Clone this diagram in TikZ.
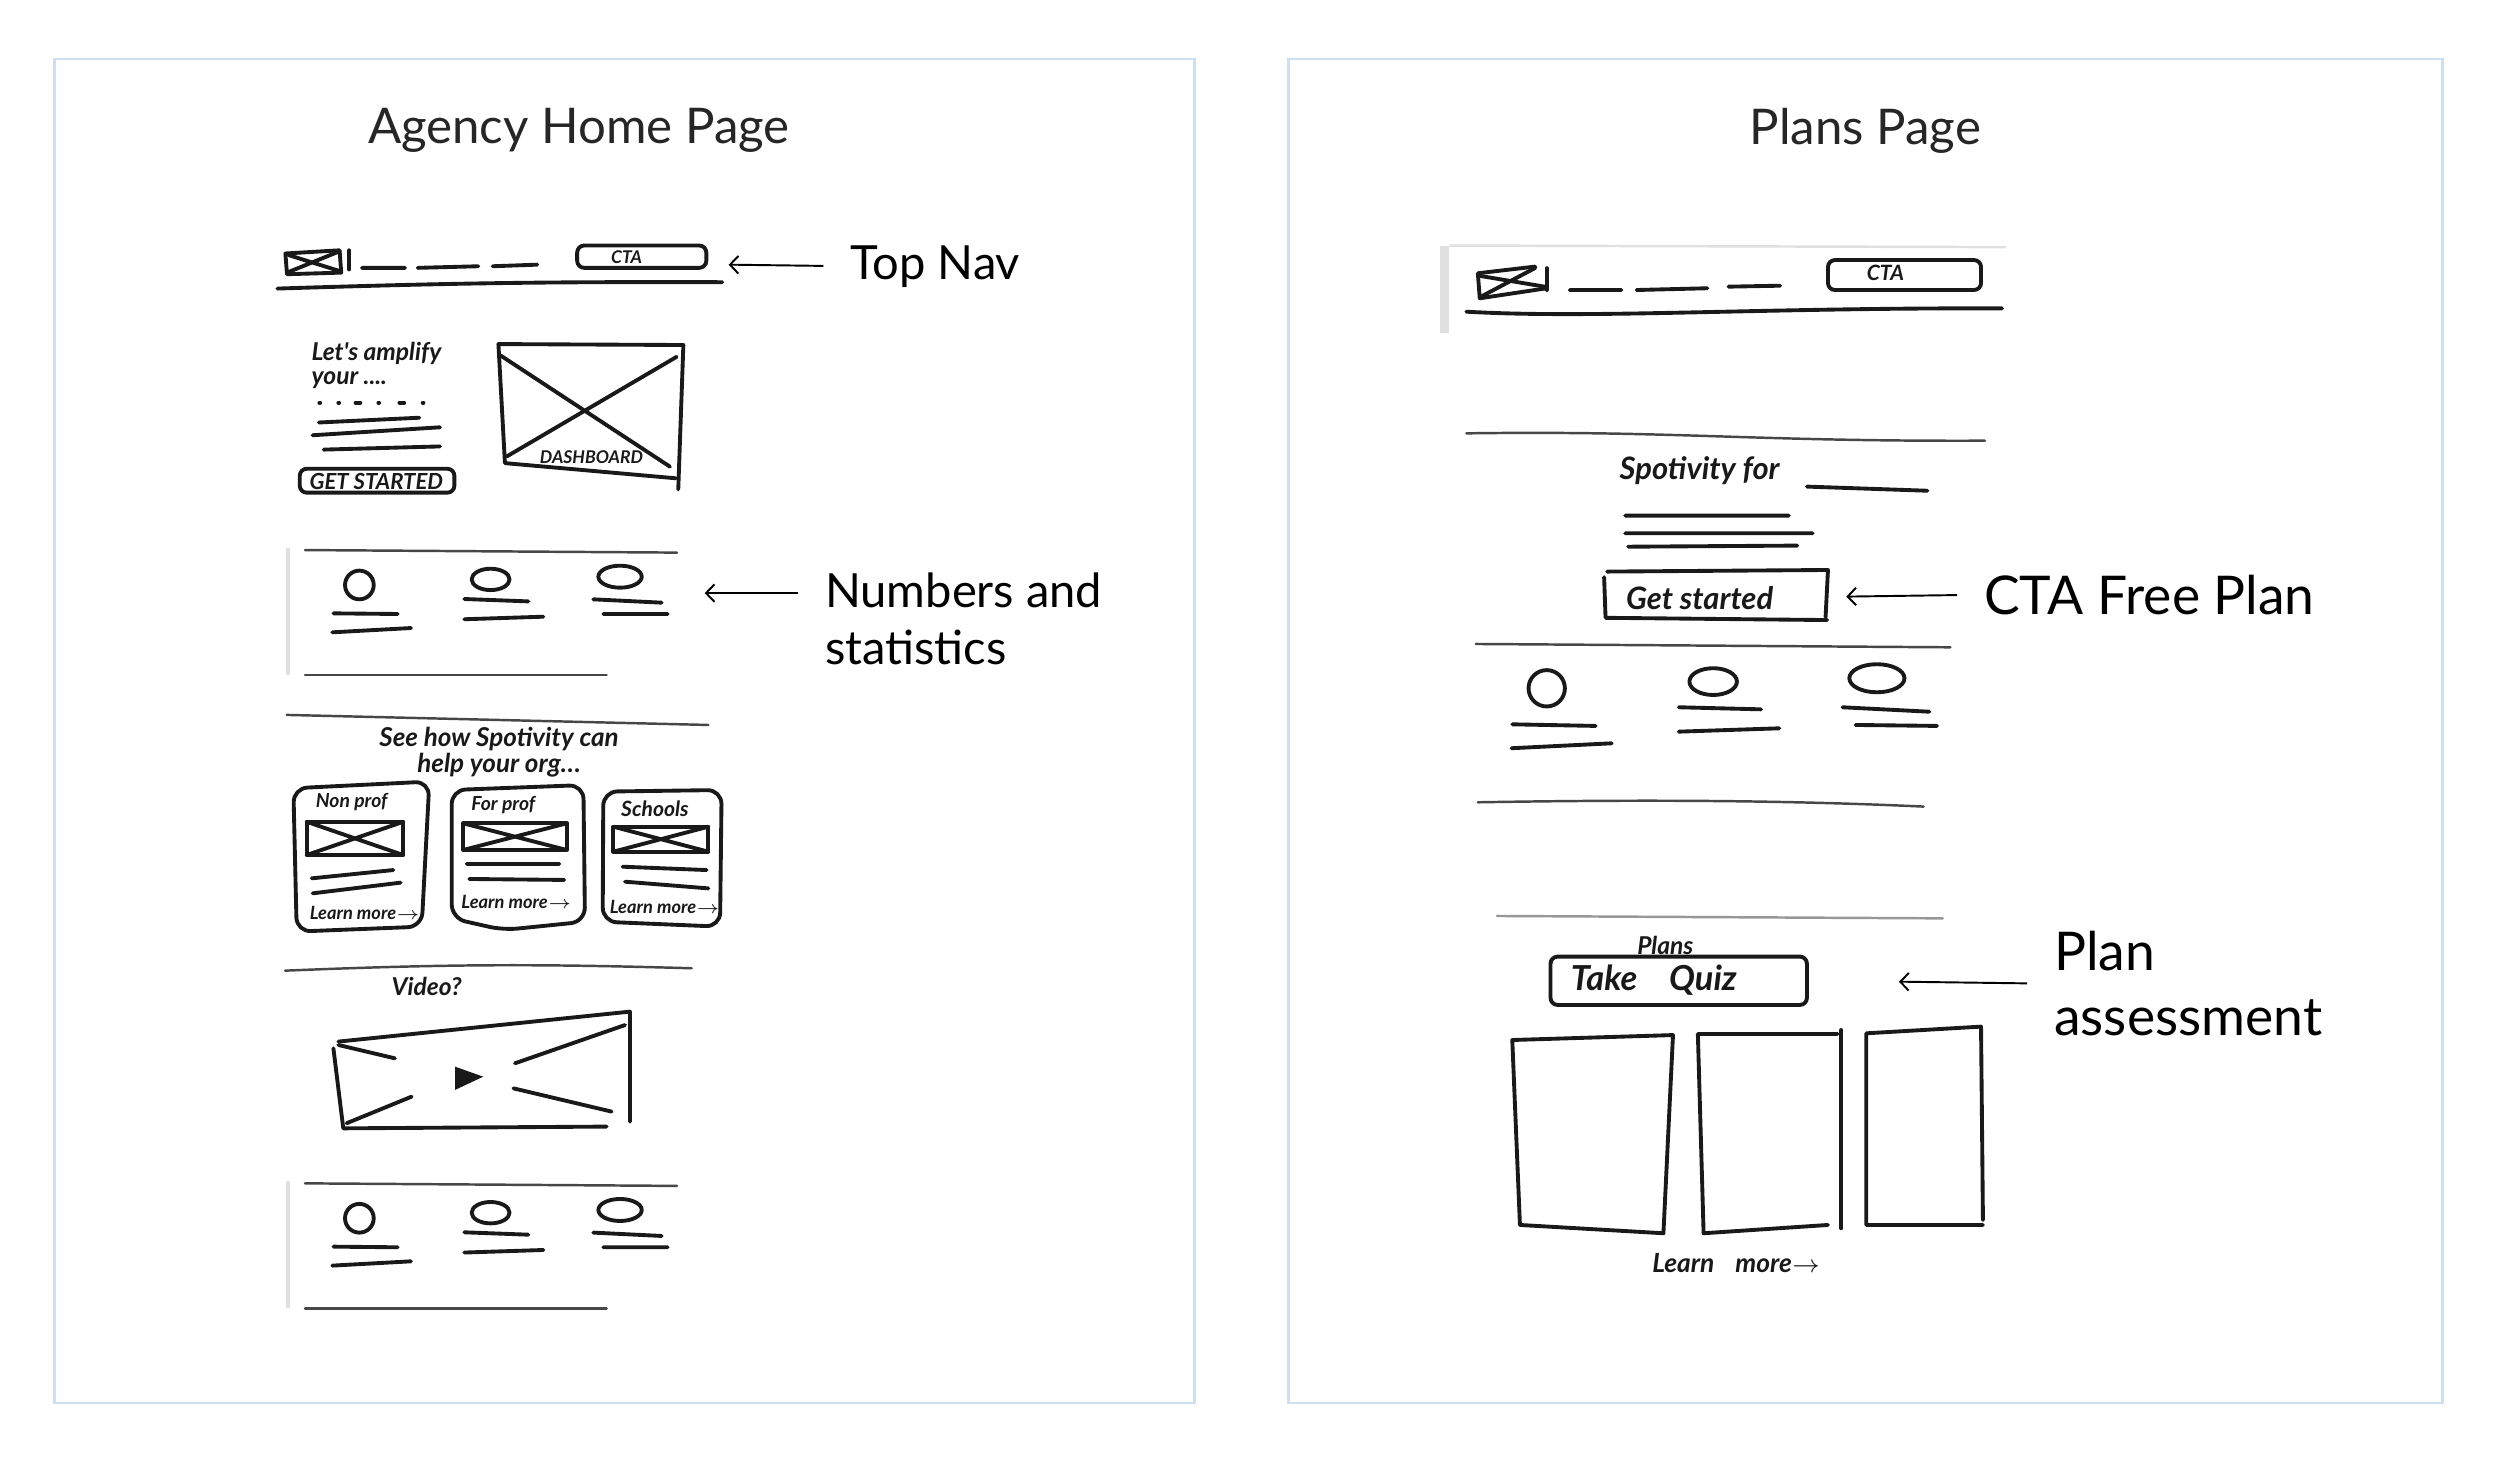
\documentclass[tikz,border=0pt]{standalone}
\usepackage{fontspec}
\setmainfont{Lato}
\newfontfamily\handfont{Lato}
\usetikzlibrary{arrows.meta}
\definecolor{framecol}{RGB}{204, 224, 243}
\definecolor{inkcol}{RGB}{25, 25, 25}
\definecolor{edgecol}{RGB}{224, 224, 224}

\begin{document}
\begin{tikzpicture}[
    x=0.015944cm, y=-0.015944cm,
    pagebox/.style={
        draw=framecol,
        line width=0.8pt
    },
    pagetitle/.style={
        text=black!85,
        font=\fontsize{14}{16}\selectfont
    },
    note/.style={
        anchor=west,
        inner sep=0pt,
        align=left,
        font=\fontsize{13.4}{16.3}\selectfont
    },
    bignote/.style={
        note,
        font=\fontsize{15.2}{18.6}\selectfont
    },
    pointer/.style={
        line width=0.55pt,
        -{Straight Barb[length=2.4pt, width=5pt]},
        shorten <=7.5pt
    },
    ink/.style={
        draw=inkcol,
        line width=1.1pt,
        line cap=round,
        line join=round
    },
    thinink/.style={
        draw=inkcol!80,
        line width=0.7pt,
        line cap=round
    },
    paperedge/.style={
        draw=edgecol,
        line width=1.2pt
    },
    hand/.style={
        inner sep=0pt,
        text=inkcol,
        font=\handfont\itshape\bfseries\fontsize{#1}{#1}\selectfont
    },
    hand/.default=6
]
\useasboundingbox (0,0) rectangle (1568,919);

% ==================== PAGE FRAMES & TITLES ====================
\draw[pagebox] (34,37) rectangle (749,880);
\draw[pagebox] (808,37) rectangle (1532,880);
\node[pagetitle] (hometitle) at (363,82) {Agency Home Page};
\node[pagetitle] (planstitle) at (1170,82) {Plans Page};

% ==================== LEFT PAGE: TOP NAV ====================
\draw[ink] (179,159) -- (213,157) -- (214,171) -- (180,172) -- cycle;
\draw[ink] (181,160) -- (213,170) (180,171) -- (212,158);
\draw[ink] (219,157) -- (219,169);
\draw[ink] (227,168) -- (254,168) (262,168) -- (300,167) (309,167) -- (337,166);
\draw[ink, rounded corners=2pt] (362,154) rectangle (443,168);
\node[hand=5] (navcta) at (393,161) {CTA};
\draw[ink] (174,181) to[bend left=1] (453,177);
\coordinate (navtip) at (457,166);

% ==================== LEFT PAGE: HERO ====================
\node[hand=7, align=left, anchor=north west] (herotext) at (195,214) {Let's amplify\\your ....};
\foreach \x in {200.3, 212.2, 237.3, 265.1}
    \draw[ink] (\x,252.5) -- ++(0.5,0);
\draw[ink] (223,252.5) -- ++(3,0) (250.5,252.5) -- ++(3,0);
\draw[ink] (200,265) -- (263,262) (196,273) -- (276,268) (203,282) -- (276,280);
\draw[ink, rounded corners=2pt] (188,294) rectangle (285,309);
\node[hand=6.3] (getstarted) at (236,302) {GET STARTED};
\draw[ink] (316.7,290.5) -- (312.6,215.8) -- (428.6,216.4) -- (425.4,307);
\draw[ink] (317,290.5) -- (424,300);
\draw[ink] (314,223) -- (420.2,292.7) (424.4,223.8) -- (318,286.2);
\node[hand=5] (dashlabel) at (371,287) {DASHBOARD};

% ==================== LEFT PAGE: STATS BANDS ====================
\foreach \dy in {0, 397.2} {
    \draw[paperedge] (180.7,{343.7+\dy}) -- (180.7,{423.4+\dy});
    \draw[thinink] (191.3,{345+\dy}) -- (424.6,{346.6+\dy});
    \draw[thinink] (191.3,{423.4+\dy}) -- (380.5,{423.4+\dy});
    \draw[ink] (225.4,{366.9+\dy}) circle [radius=9];
    \draw[ink] (307.7,{363.4+\dy}) ellipse [x radius=11.9, y radius=6.7];
    \draw[ink] (388.9,{361.7+\dy}) ellipse [x radius=13.6, y radius=6.9];
    \draw[ink] (209.1,{384.7+\dy}) -- (249.4,{385.1+\dy}) (208.4,{396.6+\dy}) -- (257.8,{393.9+\dy});
    \draw[ink] (291.2,{375.7+\dy}) -- (331.4,{377.2+\dy}) (291.2,{388.4+\dy}) -- (340.8,{386.8+\dy});
    \draw[ink] (372.1,{375.9+\dy}) -- (415,{378+\dy}) (378.4,{385.1+\dy}) -- (418.8,{385.1+\dy});
}
\coordinate (statstip) at (442,372);

% ==================== LEFT PAGE: USE CASE CARDS ====================
\draw[thinink] (179.8,448.4) -- (444.3,454.7);
\node[hand=7.4, align=center] (helptext) at (313,472) {See how Spotivity can\\help your org\dots};
\draw[ink, rounded corners=4pt] (184,494.4) -- (269.3,490.2) -- (264.5,581.2) -- (186.1,584.3) -- cycle;
\draw[ink, rounded corners=4pt] (283.3,495.5) -- (365.9,492.4) -- (366.9,578.1) -- (315.7,583.3) -- (283.3,576) -- cycle;
\draw[ink, rounded corners=4pt] (378.4,496.5) -- (452.6,495.5) -- (451.6,581.2) -- (378,578.1) -- cycle;
\node[hand=5.5] (nonprof) at (220.6,502.8) {Non prof};
\node[hand=5.5] (forprof) at (315.7,504.9) {For prof};
\node[hand=6] (schools) at (410.8,507) {Schools};
\foreach \xa/\ya/\xb/\yb in {192.3/515.4/253/536.3, 290.6/516.4/355.4/533.1, 384.7/518.5/444.3/534.2} {
    \draw[ink] (\xa,\ya) rectangle (\xb,\yb);
    \draw[ink] (\xa,\ya) -- (\xb,\yb) (\xa,\yb) -- (\xb,\ya);
}
\draw[ink] (195.5,550.9) -- (246.7,545.7) (196.1,560.3) -- (251.3,553.6);
\draw[ink] (292.7,541.9) -- (350.8,541.9) (294.4,551.3) -- (353.9,551.9);
\draw[ink] (390.5,543.6) -- (443.2,545.7) (392,553) -- (444.3,557.2);
\node[hand=5.2] (learnnon) at (228.9,572.8) {Learn more$\rightarrow$};
\node[hand=5.2] (learnfor) at (324,565.5) {Learn more$\rightarrow$};
\node[hand=5.2] (learnschool) at (417.1,568.7) {Learn more$\rightarrow$};

% ==================== LEFT PAGE: VIDEO ====================
\draw[thinink] (178.8,608.8) to[bend left=2] (433.8,607.3);
\node[hand=7] (videolabel) at (267.6,618.8) {Video?};
\draw[ink] (212.2,653.3) -- (395.1,634.5) -- (395.1,703.5);
\draw[ink] (209.1,657.5) -- (215.3,707.7) -- (380.5,706.6);
\draw[ink] (212.2,655.4) -- (247.7,663.8) (392,642.9) -- (323,666.9)
    (217.4,704.5) -- (258.2,687.8) (322,682.6) -- (383.6,697.2);
\fill[inkcol] (285.4,669) -- (303.1,675.3) -- (285.4,683.6) -- cycle;

% ==================== RIGHT PAGE: TOP NAV ====================
\fill[edgecol] (903,154) rectangle (909,209);
\draw[paperedge, line width=0.7pt] (909,154) -- (1258,155);
\draw[ink] (926.9,171.4) -- (962.9,167.2) (926.9,171.4) -- (928.1,187.1) -- (970.1,180.8);
\draw[ink] (928,173) -- (970,180) (929,186) -- (963,168);
\draw[ink] (970.1,168.2) -- (970.1,181.9);
\draw[ink] (984.5,181.9) -- (1016.9,181.9) (1026.5,181.9) -- (1070.9,180.8) (1084.1,179.8) -- (1116.5,179.2);
\draw[ink, rounded corners=2pt] (1146.5,163.1) rectangle (1242.5,181.9);
\node[hand=6] (plancta) at (1182.5,171.4) {CTA};
\draw[ink] (919.7,195.5) .. controls (1000,200) and (1100,193) .. (1255.7,193.4);

% ==================== RIGHT PAGE: HERO ====================
\draw[thinink] (919.7,271.8) .. controls (1050,270) and (1100,277) .. (1244.9,276.4);
\node[hand=8.8] (spotfor) at (1066,295) {Spotivity for};
\draw[ink] (1133.3,305.2) -- (1208.9,307.8);
\draw[ink] (1019.3,323.4) -- (1122,323.4) (1019.3,334.5) -- (1136.9,334.5) (1021.2,342.9) -- (1127.3,342.2);
\draw[ink] (1008,358.5) -- (1146.5,357.5) -- (1145,387) (1006.1,362) -- (1007,387.5) -- (1146,388.9);
\node[hand=8.8] (startedlabel) at (1066,375.3) {Get started};
\coordinate (freetip) at (1158,374.2);

% ==================== RIGHT PAGE: STATS BAND ====================
\draw[thinink] (925.7,403.9) -- (1223.3,406);
\draw[thinink] (926.9,503.2) .. controls (1000,502) and (1100,501) .. (1206.5,505.9);
\draw[ink] (970.1,431.7) circle [radius=11.4];
\draw[ink] (1074.5,427.5) ellipse [x radius=14.9, y radius=8.4];
\draw[ink] (1177.2,425.4) ellipse [x radius=17.3, y radius=8.8];
\draw[ink] (948.5,454.3) -- (1000.8,455.3) (948,469.3) -- (1010.9,466.2);
\draw[ink] (1052.9,443.6) -- (1104.5,444.9) (1052.9,458.9) -- (1116,456.8);
\draw[ink] (1155.6,443.6) -- (1210.1,446.4) (1163.8,454.7) -- (1214.9,455.3);

% ==================== RIGHT PAGE: PLANS ====================
\draw[thinink, draw=inkcol!45] (938.9,574.5) -- (1218.5,576);
\node[hand=7] (planslabel) at (1044.5,592.7) {Plans};
\draw[ink, rounded corners=2pt] (972.5,600) rectangle (1133.3,630.3);
\node[hand=9.8] (quizlabel) at (1037.3,614.7) {Take\hspace{9pt}Quiz};
\coordinate (quiztip) at (1191,615.7);
\draw[ink] (948.5,652.3) -- (1049.3,649.2) -- (1043.3,773.5) -- (953.3,768.3) -- cycle;
\draw[ink] (1064.9,648.5) -- (1152.5,648.5) (1064.9,648.5) -- (1068.5,773.5) -- (1146.5,768.3);
\draw[ink] (1154.9,646) -- (1154.9,770.4);
\draw[ink] (1170.5,648.1) -- (1242.5,643.9) -- (1243.7,765.2) (1170.5,648.1) -- (1170.5,768.3) -- (1243.7,768.3);
\node[hand=7.5] (learnplans) at (1088.9,792.4) {Learn\hspace{6pt}more$\rightarrow$};

% ==================== ANNOTATIONS ====================
\node[note] (topnav) at (533,167) {Top Nav};
\node[note] (statsnote) at (517,388) {Numbers and\\statistics};
\node[bignote] (freeplan) at (1244,373) {CTA Free Plan};
\node[bignote] (assessment) at (1288,617) {Plan\\assessment};

\draw[pointer] (topnav.west) -- (navtip);
\draw[pointer] (statsnote.west |- statstip) -- (statstip);
\draw[pointer] (freeplan.west) -- (freetip);
\draw[pointer] (assessment.west) -- (quiztip);

\end{tikzpicture}
\end{document}
